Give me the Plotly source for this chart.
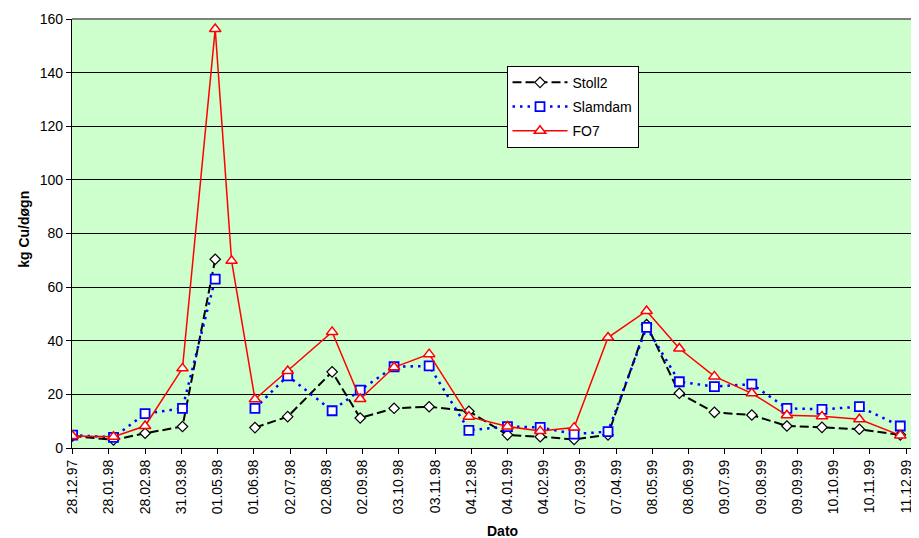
import plotly.graph_objects as go

dates = ["1997-12-28", "1998-02-01", "1998-02-28", "1998-04-01", "1998-04-29", "1998-05-13",
         "1998-06-02", "1998-06-30", "1998-08-07", "1998-08-31", "1998-09-29", "1998-10-29",
         "1998-12-02", "1999-01-04", "1999-02-01", "1999-03-02", "1999-03-31", "1999-05-03",
         "1999-05-31", "1999-06-30", "1999-08-01", "1999-08-31", "1999-09-30", "1999-11-01",
         "1999-12-06"]

stoll2 = [4.5, 3.0, 5.5, 8.0, 70.4, None, 7.6, 11.7, 28.4, 11.2, 14.8, 15.4, 13.7, 4.9, 4.2,
          3.2, 4.9, 46.0, 20.4, 13.3, 12.3, 8.2, 7.7, 7.0, 4.9]
slamdam = [4.8, 4.0, 12.8, 14.8, 63.0, None, 14.8, 26.9, 13.9, 21.6, 30.3, 30.6, 6.6, 8.0, 7.7,
           5.2, 6.1, 45.0, 24.7, 22.9, 23.8, 14.8, 14.4, 15.4, 8.2]
fo7 = [4.5, 4.2, 8.2, 29.7, 156.3, 69.8, 18.2, 28.7, 43.3, 18.3, 30.1, 35.0, 11.7, 8.0, 6.3,
       7.6, 41.2, 51.1, 37.1, 26.7, 20.4, 12.2, 11.8, 10.7, 4.7]

tick_dates = ["1997-12-28", "1998-01-28", "1998-02-28", "1998-03-31", "1998-05-01", "1998-06-01",
              "1998-07-02", "1998-08-02", "1998-09-02", "1998-10-03", "1998-11-03", "1998-12-04",
              "1999-01-04", "1999-02-04", "1999-03-07", "1999-04-07", "1999-05-08", "1999-06-08",
              "1999-07-09", "1999-08-09", "1999-09-09", "1999-10-10", "1999-11-10", "1999-12-11"]
tick_labels = ["28.12.97", "28.01.98", "28.02.98", "31.03.98", "01.05.98", "01.06.98",
               "02.07.98", "02.08.98", "02.09.98", "03.10.98", "03.11.98", "04.12.98",
               "04.01.99", "04.02.99", "07.03.99", "07.04.99", "08.05.99", "08.06.99",
               "09.07.99", "09.08.99", "09.09.99", "10.10.99", "10.11.99", "11.12.99"]

FONT = "Liberation Sans, Arial, sans-serif"

fig = go.Figure()
fig.add_trace(go.Scatter(
    x=dates, y=stoll2, name="Stoll2", mode="lines+markers", legendgroup="a",
    connectgaps=False,
    line=dict(color="black", width=2, dash="9px,4px"),
    marker=dict(symbol="diamond", size=8, color="white", line=dict(color="black", width=1.2)),
))
fig.add_trace(go.Scatter(
    x=dates, y=slamdam, name="Slamdam", mode="lines+markers", legendgroup="b",
    connectgaps=False,
    line=dict(color="#0000FF", width=2.5, dash="2.5px,5px"),
    marker=dict(symbol="square", size=9, color="white", line=dict(color="#0000FF", width=1.8)),
))
fig.add_trace(go.Scatter(
    x=dates, y=fo7, name="FO7", mode="lines+markers", legendgroup="c",
    connectgaps=False,
    line=dict(color="#FF0000", width=1.5),
    marker=dict(symbol="triangle-up", size=10, color="white", line=dict(color="#FF0000", width=1.5)),
))

fig.update_layout(
    width=911, height=530,
    margin=dict(l=64, r=0, t=11, b=90),
    paper_bgcolor="white",
    plot_bgcolor="#CCFFCC",
    font=dict(family=FONT, size=14, color="black"),
    showlegend=True,
    legend=dict(
        x=0.513, y=0.891, xanchor="left", yanchor="top",
        bgcolor="white", bordercolor="black", borderwidth=1,
        font=dict(size=14), tracegroupgap=3, itemwidth=55,
    ),
    xaxis=dict(
        type="date",
        range=["1997-12-27 12:00", "1999-12-22"],
        tickmode="array", tickvals=tick_dates, ticktext=tick_labels,
        tickangle=-90, ticks="outside", ticklen=5, tickcolor="black",
        showgrid=False, showline=True, linecolor="black", linewidth=1.2,
        tickfont=dict(size=14), zeroline=False,
    ),
    yaxis=dict(
        range=[0, 160], dtick=20, tick0=0,
        ticks="outside", ticklen=5, tickcolor="black",
        showgrid=True, gridcolor="black", gridwidth=1,
        showline=True, linecolor="black", linewidth=1.2,
        tickfont=dict(size=14), zeroline=False,
    ),
    annotations=[
        dict(text="<b>kg Cu/døgn</b>", textangle=-90, x=-0.056, y=0.51,
             xref="paper", yref="paper", xanchor="center", yanchor="middle",
             showarrow=False, font=dict(size=14)),
        dict(text="<b>Dato</b>", x=0.508, y=-0.194, xref="paper", yref="paper",
             xanchor="center", yanchor="middle", showarrow=False, font=dict(size=14)),
    ],
    shapes=[
        dict(type="line", xref="paper", yref="paper", x0=0, x1=1, y0=1, y1=1,
             line=dict(color="#808080", width=2)),
    ],
)

fig.write_html("out.html")
